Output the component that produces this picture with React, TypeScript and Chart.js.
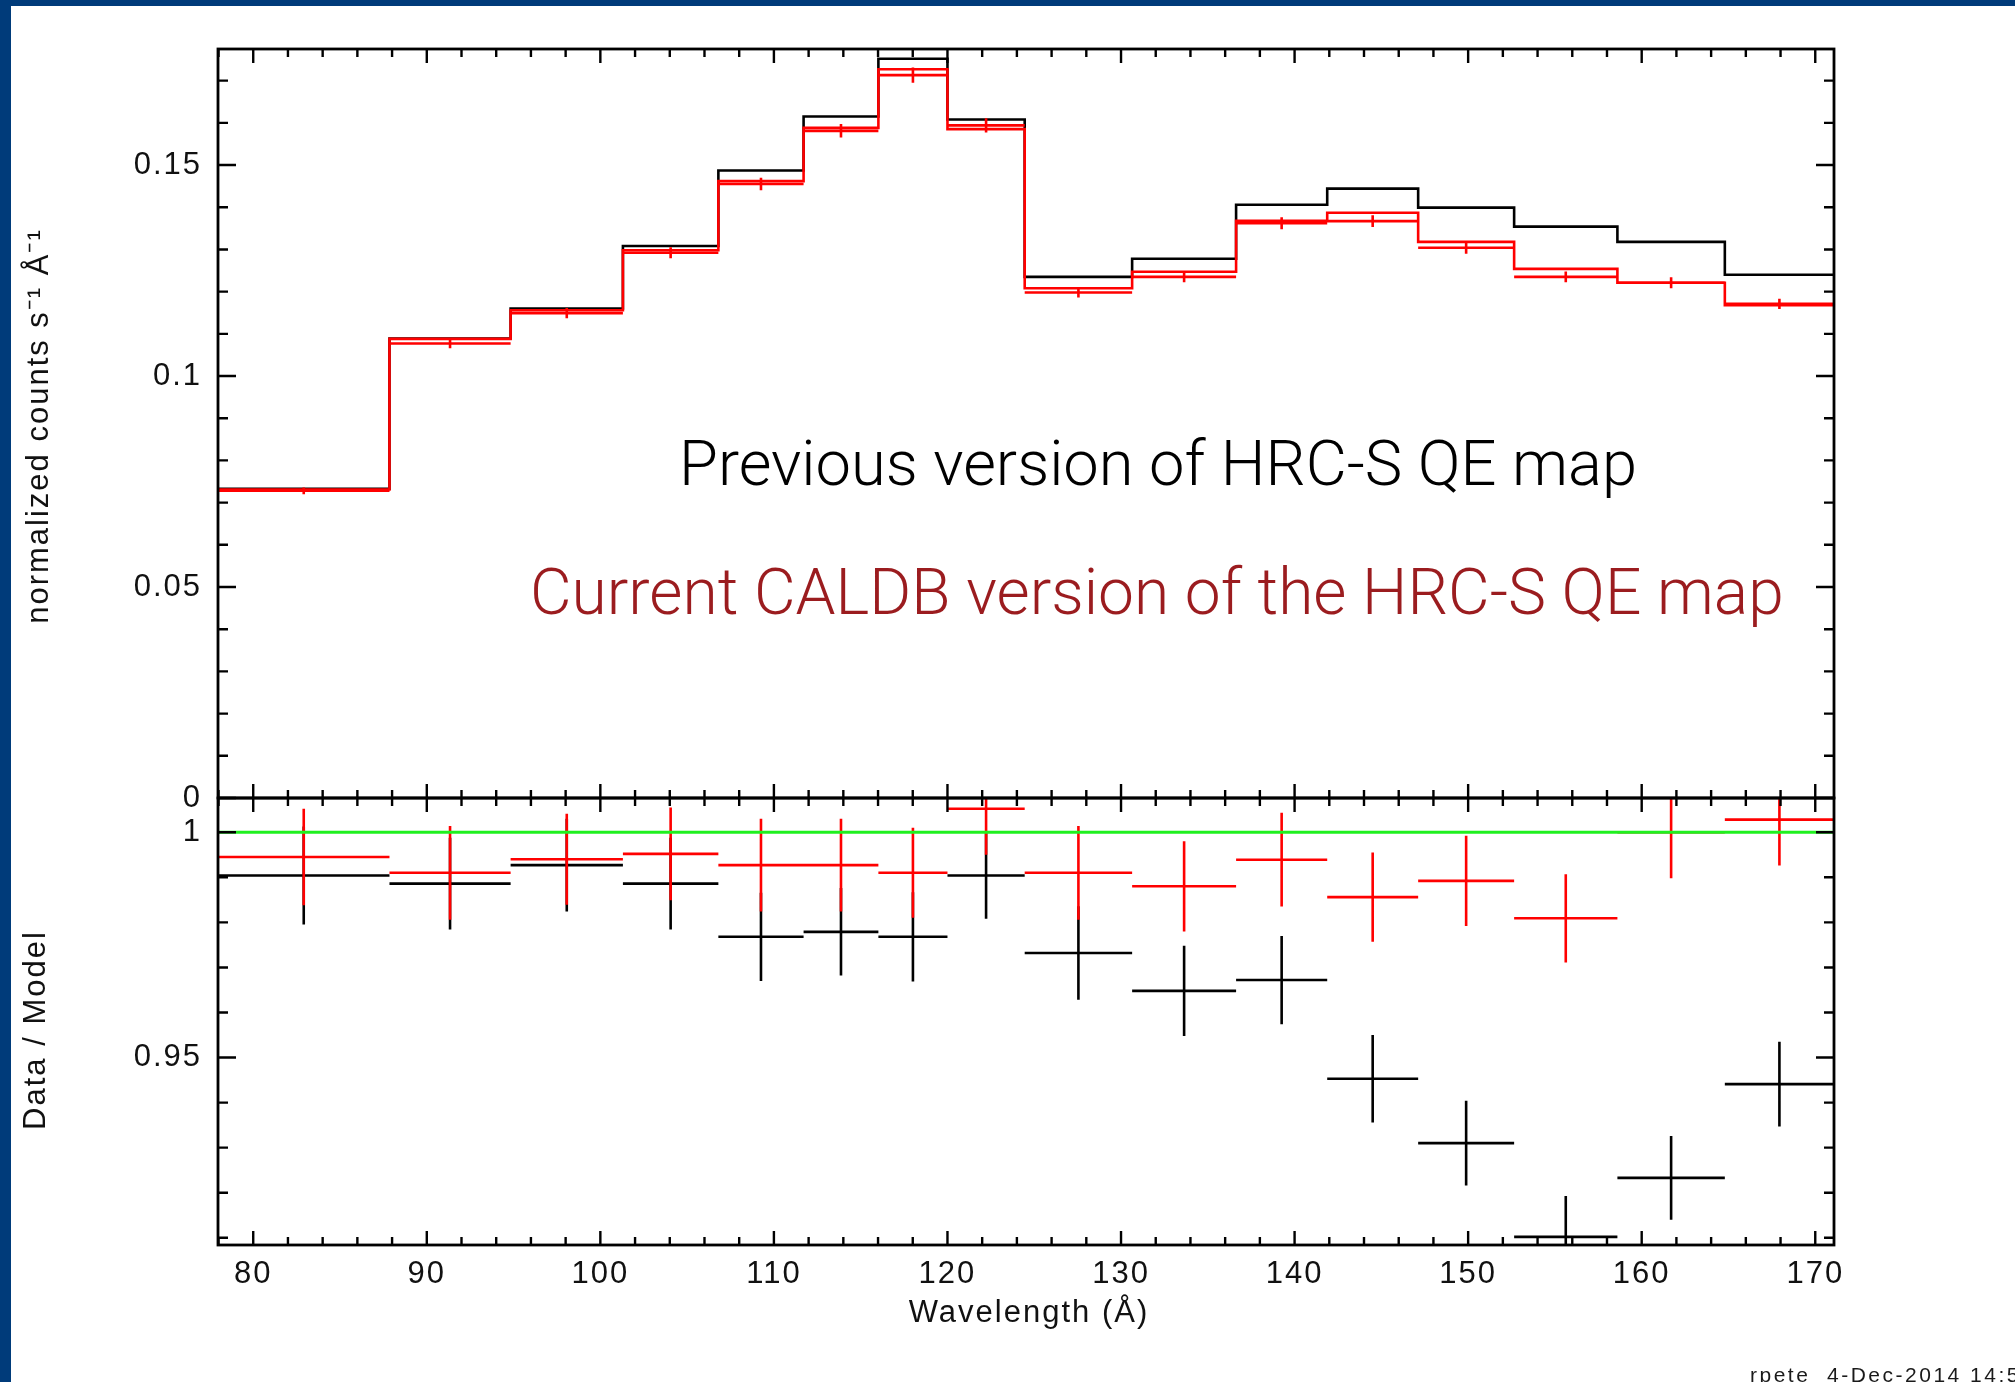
import React, { useEffect, useRef } from 'react';
import { Chart, registerables } from 'chart.js';

Chart.register(...registerables);

const W = 2015;
const H = 1382;

// Wavelength bin edges (Å), shared by both panels
const binEdges = [77.97, 87.85, 94.83, 101.3, 106.8, 111.71, 116.02, 120.0, 124.45, 130.64, 136.63, 141.88, 147.12, 152.65, 158.6, 164.79, 171.08];

// Upper panel: normalized counts s^-1 Å^-1
const countRate = [0.0728, 0.1077, 0.1149, 0.1292, 0.1455, 0.1581, 0.1713, 0.1594, 0.1198, 0.1235, 0.1362, 0.1367, 0.1304, 0.1235, 0.1221, 0.1171];
const countRateErr = [0.0008, 0.0011, 0.0012, 0.0013, 0.0015, 0.0016, 0.0018, 0.0017, 0.0012, 0.0013, 0.0014, 0.0014, 0.0014, 0.0013, 0.0013, 0.0012];
const modelPreviousQE = [0.0733, 0.1089, 0.116, 0.1308, 0.1487, 0.1615, 0.1752, 0.1608, 0.1235, 0.1278, 0.1406, 0.1444, 0.1399, 0.1354, 0.1318, 0.124];
const modelCurrentQE = [0.0731, 0.1088, 0.1156, 0.1298, 0.1462, 0.1588, 0.1727, 0.1585, 0.1208, 0.1247, 0.1368, 0.1387, 0.1318, 0.1254, 0.1221, 0.1168];

// Lower panel: data / model
const ratioPreviousQE = [0.9904, 0.9886, 0.9927, 0.9886, 0.9768, 0.9779, 0.9768, 0.9904, 0.9732, 0.9648, 0.9672, 0.9453, 0.931, 0.9102, 0.9233, 0.9441];
const ratioPreviousErr = [0.0109, 0.0102, 0.0103, 0.0102, 0.0098, 0.0097, 0.0099, 0.0096, 0.0104, 0.01, 0.0098, 0.0097, 0.0094, 0.0091, 0.0093, 0.0094];
const ratioCurrentQE = [0.9945, 0.991, 0.994, 0.9952, 0.9927, 0.9927, 0.991, 1.0052, 0.991, 0.988, 0.9939, 0.9856, 0.9892, 0.9809, 1.0, 1.0028];
const ratioCurrentErr = [0.0107, 0.0104, 0.0101, 0.0103, 0.0103, 0.0103, 0.01, 0.0102, 0.0104, 0.01, 0.0104, 0.0099, 0.01, 0.0098, 0.0102, 0.0102];
const ratioUnity = 1;

// Axes
const wavelengthTicks = [80, 90, 100, 110, 120, 130, 140, 150, 160, 170];
const wavelengthTickLabels = ['80', '90', '100', '110', '120', '130', '140', '150', '160', '170'];
const wavelengthMinorStep = 2;
const rateRange = [0, 0.1775];
const rateTicks = [0, 0.05, 0.1, 0.15];
const rateTickLabels = ['0', '0.05', '0.1', '0.15'];
const rateMinorStep = 0.01;
const ratioRange = [0.9084, 1.0076];
const ratioTicks = [0.95, 1];
const ratioTickLabels = ['0.95', '1'];
const ratioMinorStep = 0.01;

const rateTitle = 'normalized counts s\u207B\u00B9 \u00C5\u207B\u00B9';
const ratioTitle = 'Data / Model';
const wavelengthTitle = 'Wavelength (\u00C5)';
const previousLabel = 'Previous version of HRC-S QE map';
const currentLabel = 'Current CALDB version of the HRC-S QE map';
const stampText = 'rpete  4-Dec-2014 14:5';

const INK = '#000000';
const TEXT = '#111111';
const RED = '#ff0000';
const GREEN = '#1ff01f';
const LABEL_RED = '#9b1c1f';
const FRAME_BLUE = '#003b7a';
const AXIS_FONT = '"Liberation Sans", Arial, sans-serif';
const AXIS_FONT_SIZE = 31;
const AXIS_SPACING = '2px';
const LW = 2.6;

// Panel geometry (canvas pixels)
const PLOT_LEFT = 218;
const PLOT_RIGHT = 1834;
const TOP_PANEL_TOP = 49;
const PANEL_SPLIT = 798;
const LOWER_PANEL_BOTTOM = 1245;

type Pt = { x: number; y: number | null };

// histogram outline: each value holds from its left edge to the next edge
const stepSeries = (vals: number[]): Pt[] => [
  ...vals.map((v, i) => ({ x: binEdges[i], y: v })),
  { x: binEdges[vals.length], y: vals[vals.length - 1] },
];

// horizontal bars spanning each bin, separated by gaps
const binBars = (vals: number[]): Pt[] =>
  vals.flatMap((v, i) => [
    { x: binEdges[i], y: v },
    { x: binEdges[i + 1], y: v },
    { x: binEdges[i + 1], y: null },
  ]);

// vertical error bars at bin centres
const errorBars = (vals: number[], errs: number[]): Pt[] =>
  vals.flatMap((v, i) => {
    const c = (binEdges[i] + binEdges[i + 1]) / 2;
    return [
      { x: c, y: v - errs[i] },
      { x: c, y: v + errs[i] },
      { x: c, y: null },
    ];
  });

const minorValues = (min: number, max: number, step: number) => {
  const out: number[] = [];
  for (let k = Math.ceil(min / step - 1e-9); k * step <= max + 1e-9; k++) out.push(+(k * step).toFixed(6));
  return out;
};

const lineDs = (label: string, data: Pt[], color: string, order: number, extra: any = {}) => ({
  label,
  data,
  borderColor: color,
  backgroundColor: color,
  borderWidth: LW,
  pointRadius: 0,
  fill: false,
  tension: 0,
  spanGaps: false,
  order,
  ...extra,
});

type TitleSpec = { text: string; cx: number; cy: number; rotate: boolean };

const drawAxisTitle = (ctx: any, t: TitleSpec) => {
  ctx.save();
  ctx.letterSpacing = AXIS_SPACING;
  ctx.font = `${AXIS_FONT_SIZE}px ${AXIS_FONT}`;
  ctx.fillStyle = TEXT;
  ctx.textAlign = 'center';
  ctx.textBaseline = 'middle';
  ctx.translate(t.cx, t.cy);
  if (t.rotate) ctx.rotate(-Math.PI / 2);
  ctx.fillText(t.text, 0, 0);
  ctx.restore();
};

// PGPLOT-style box: frame with inward ticks on all four sides, plus axis titles
const makeBoxPlugin = (xMajor: number[], xStep: number, yMajor: number[], yStep: number, titles: TitleSpec[]) => ({
  id: 'pgBox',
  beforeDraw(chart: any) {
    chart.ctx.letterSpacing = AXIS_SPACING;
  },
  afterDraw(chart: any) {
    const { ctx, chartArea: a } = chart;
    const xs = chart.scales.x;
    const ys = chart.scales.y;
    const isMajor = (list: number[], v: number) => list.some((m) => Math.abs(m - v) < 1e-6);
    ctx.save();
    ctx.letterSpacing = '0px';
    ctx.strokeStyle = INK;
    ctx.lineWidth = 2.4;
    ctx.lineCap = 'butt';
    ctx.beginPath();
    minorValues(xs.min, xs.max, xStep).forEach((v) => {
      const p = xs.getPixelForValue(v);
      const len = isMajor(xMajor, v) ? 14 : 8;
      ctx.moveTo(p, a.bottom);
      ctx.lineTo(p, a.bottom - len);
      ctx.moveTo(p, a.top);
      ctx.lineTo(p, a.top + len);
    });
    minorValues(ys.min, ys.max, yStep).forEach((v) => {
      const p = ys.getPixelForValue(v);
      const len = isMajor(yMajor, v) ? 18 : 10;
      ctx.moveTo(a.left, p);
      ctx.lineTo(a.left + len, p);
      ctx.moveTo(a.right, p);
      ctx.lineTo(a.right - len, p);
    });
    ctx.stroke();
    ctx.lineWidth = 2.8;
    ctx.strokeRect(a.left, a.top, a.right - a.left, a.bottom - a.top);
    ctx.restore();
    titles.forEach((t) => drawAxisTitle(ctx, t));
  },
});

const drawFitted = (ctx: any, text: string, left: number, baseline: number, width: number, color: string) => {
  const family = 'Roboto, "Liberation Sans", sans-serif';
  ctx.font = `300 100px ${family}`;
  const w100 = ctx.measureText(text).width;
  const size = (100 * width) / w100;
  ctx.font = `300 ${size}px ${family}`;
  ctx.fillStyle = color;
  ctx.textAlign = 'left';
  ctx.textBaseline = 'alphabetic';
  ctx.fillText(text, left, baseline);
};

const captionPlugin = {
  id: 'captions',
  afterDraw(chart: any) {
    const ctx = chart.ctx;
    ctx.save();
    ctx.letterSpacing = '0px';
    drawFitted(ctx, previousLabel, 679, 485, 958, INK);
    drawFitted(ctx, currentLabel, 530, 614, 1254, LABEL_RED);
    ctx.restore();
  },
};

const stampPlugin = {
  id: 'stamp',
  afterDraw(chart: any) {
    const ctx = chart.ctx;
    ctx.save();
    ctx.letterSpacing = '2.5px';
    ctx.font = `21px ${AXIS_FONT}`;
    ctx.fillStyle = '#1a1a1a';
    ctx.textAlign = 'left';
    ctx.textBaseline = 'alphabetic';
    ctx.fillText(stampText, 1750, 1382);
    ctx.restore();
  },
};

const axisFont = { family: AXIS_FONT, size: AXIS_FONT_SIZE };

const baseOptions = (padding: any) => ({
  animation: false as const,
  responsive: false,
  maintainAspectRatio: false,
  devicePixelRatio: 1,
  events: [] as any[],
  layout: { padding },
  plugins: { legend: { display: false }, tooltip: { enabled: false } },
});

const yAxis = (range: number[], ticks: number[], labels: string[]) => ({
  type: 'linear' as const,
  position: 'left' as const,
  min: range[0],
  max: range[1],
  afterFit: (s: any) => {
    s.width = PLOT_LEFT;
  },
  afterBuildTicks: (s: any) => {
    s.ticks = ticks.map((v) => ({ value: v }));
  },
  grid: { display: false, drawTicks: false },
  border: { display: false },
  ticks: {
    font: axisFont,
    color: TEXT,
    padding: 16,
    callback: (_v: any, i: number) => labels[i],
  },
});

export default function App() {
  const topRef = useRef<HTMLCanvasElement>(null);
  const lowRef = useRef<HTMLCanvasElement>(null);

  useEffect(() => {
    document.body.style.margin = '0';
    document.body.style.background = '#ffffff';

    const xMin = binEdges[0];
    const xMax = binEdges[binEdges.length - 1];

    const topChart = new Chart(topRef.current as HTMLCanvasElement, {
      type: 'line',
      data: {
        datasets: [
          lineDs('current QE model', stepSeries(modelCurrentQE), RED, 0, { stepped: true }),
          lineDs('data', binBars(countRate), RED, 1),
          lineDs('data error', errorBars(countRate, countRateErr), RED, 1),
          lineDs('previous QE model', stepSeries(modelPreviousQE), INK, 2, { stepped: true }),
        ],
      },
      options: {
        ...baseOptions({ left: 0, top: TOP_PANEL_TOP, right: W - PLOT_RIGHT, bottom: H - PANEL_SPLIT }),
        scales: {
          x: { type: 'linear', min: xMin, max: xMax, display: false },
          y: yAxis(rateRange, rateTicks, rateTickLabels),
        },
      } as any,
      plugins: [
        makeBoxPlugin(wavelengthTicks, wavelengthMinorStep, rateTicks, rateMinorStep, [
          { text: rateTitle, cx: 39, cy: 426, rotate: true },
        ]),
        captionPlugin,
      ],
    });

    const lowChart = new Chart(lowRef.current as HTMLCanvasElement, {
      type: 'line',
      data: {
        datasets: [
          lineDs('unity', [{ x: xMin, y: ratioUnity }, { x: xMax, y: ratioUnity }], GREEN, 0, { borderWidth: 2.8 }),
          lineDs('current ratio', binBars(ratioCurrentQE), RED, 1),
          lineDs('current ratio error', errorBars(ratioCurrentQE, ratioCurrentErr), RED, 1),
          lineDs('previous ratio', binBars(ratioPreviousQE), INK, 2),
          lineDs('previous ratio error', errorBars(ratioPreviousQE, ratioPreviousErr), INK, 2),
        ],
      },
      options: {
        ...baseOptions({ left: 0, top: PANEL_SPLIT, right: W - PLOT_RIGHT, bottom: 0 }),
        scales: {
          x: {
            type: 'linear',
            position: 'bottom',
            min: xMin,
            max: xMax,
            afterFit: (s: any) => {
              s.height = H - LOWER_PANEL_BOTTOM;
            },
            afterBuildTicks: (s: any) => {
              s.ticks = wavelengthTicks.map((v) => ({ value: v }));
            },
            grid: { display: false, drawTicks: false },
            border: { display: false },
            ticks: {
              font: axisFont,
              color: TEXT,
              padding: 11,
              autoSkip: false,
              maxRotation: 0,
              minRotation: 0,
              callback: (_v: any, i: number) => wavelengthTickLabels[i],
            },
          },
          y: yAxis(ratioRange, ratioTicks, ratioTickLabels),
        },
      } as any,
      plugins: [
        makeBoxPlugin(wavelengthTicks, wavelengthMinorStep, ratioTicks, ratioMinorStep, [
          { text: ratioTitle, cx: 36, cy: 1030, rotate: true },
          { text: wavelengthTitle, cx: 1029, cy: 1313, rotate: false },
        ]),
        stampPlugin,
      ],
    });

    return () => {
      topChart.destroy();
      lowChart.destroy();
    };
  }, []);

  const layer: React.CSSProperties = { position: 'absolute', left: 0, top: 0, width: W, height: H };

  return (
    <div style={{ position: 'relative', width: W, height: H, background: '#ffffff', overflow: 'hidden' }}>
      <canvas ref={lowRef} width={W} height={H} style={layer} />
      <canvas ref={topRef} width={W} height={H} style={layer} />
      <div style={{ position: 'absolute', left: 0, top: 0, width: W, height: 6, background: FRAME_BLUE }} />
      <div style={{ position: 'absolute', left: 0, top: 0, width: 11, height: H, background: FRAME_BLUE }} />
    </div>
  );
}
